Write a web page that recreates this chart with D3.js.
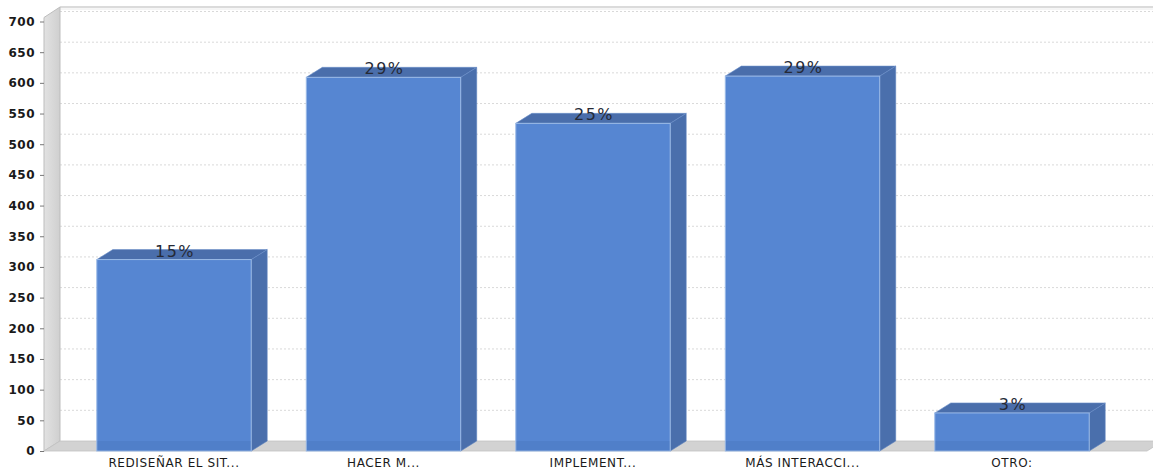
<!DOCTYPE html>
<html><head><meta charset="utf-8">
<script src="https://cdn.jsdelivr.net/npm/d3@7"></script>
<style>body{margin:0;background:#fff;}svg{display:block;}</style>
</head><body>
<svg id="c" width="1153" height="470"></svg>
<script>
const categories = ["REDISEÑAR EL SIT...", "HACER M...", "IMPLEMENT...", "MÁS INTERACCI...", "OTRO:"];
const values = [312, 609, 534, 611, 62];
const percentLabels = ["15%", "29%", "25%", "29%", "3%"];
const yTicks = [0,50,100,150,200,250,300,350,400,450,500,550,600,650,700];

const W = 1153, H = 470;
const DX = 16, DY = -10;
const svg = d3.select("#c");
const y = d3.scaleLinear().domain([0, 700]).range([451, 21.5]);
const x = d3.scaleBand().domain(categories).range([69.25, 1116.75]).padding(0);
const barW = x.bandwidth() * 0.737;

const leftX = 44, floorY = y(0);

// back wall
svg.append("rect").attr("x", leftX + DX).attr("y", 7).attr("width", W).attr("height", floorY + DY - 7).attr("fill", "#fff");
svg.append("line").attr("x1", leftX + DX).attr("x2", W).attr("y1", 7).attr("y2", 7).attr("stroke", "#cfcfcf").attr("stroke-width", 1.5);
svg.append("line").attr("x1", leftX + DX).attr("x2", W).attr("y1", 9).attr("y2", 9).attr("stroke", "#ececec").attr("stroke-width", 1);

// gridlines on back wall
svg.append("g").selectAll("line").data(yTicks.filter(d => d > 0)).join("line")
  .attr("x1", leftX + DX).attr("x2", W)
  .attr("y1", d => y(d) + DY).attr("y2", d => y(d) + DY)
  .attr("stroke", "#d9d9d9").attr("stroke-dasharray", "2,2").attr("stroke-width", 1);

// left wall
const wallGrad = svg.append("defs").append("linearGradient").attr("id", "wg").attr("x1", 0).attr("x2", 1);
wallGrad.append("stop").attr("offset", 0).attr("stop-color", "#e2e2e2");
wallGrad.append("stop").attr("offset", 1).attr("stop-color", "#cfcfcf");
svg.append("path")
  .attr("d", `M${leftX},${floorY} L${leftX},${y(700) - 4} L${leftX + DX},${7} L${leftX + DX},${floorY + DY} Z`)
  .attr("fill", "url(#wg)").attr("stroke", "#bdbdbd").attr("stroke-width", 1);

// floor
svg.append("path")
  .attr("d", `M${leftX},${floorY} L${leftX + DX},${floorY + DY} L${W + 10},${floorY + DY} L${W - 6},${floorY} Z`)
  .attr("fill", "#d2d2d2").attr("stroke", "#c2c2c2").attr("stroke-width", 0.8);

// bars
const bars = svg.append("g").selectAll("g").data(categories.map((c, i) => ({c, v: values[i], p: percentLabels[i]}))).join("g");
bars.each(function(d) {
  const g = d3.select(this);
  const cx = x(d.c) + x.bandwidth() / 2;
  const x0 = cx - barW / 2, x1 = cx + barW / 2, yt = y(d.v);
  g.append("path").attr("d", `M${x1},${yt} L${x1 + DX},${yt + DY} L${x1 + DX},${floorY + DY} L${x1},${floorY} Z`)
    .attr("fill", "#4a6fac").attr("stroke", "#5d82bd").attr("stroke-width", 0.6);
  g.append("path").attr("d", `M${x0},${yt} L${x0 + DX},${yt + DY} L${x1 + DX},${yt + DY} L${x1},${yt} Z`)
    .attr("fill", "#4a6eab").attr("stroke", "#6a8fca").attr("stroke-width", 0.6);
  g.append("rect").attr("x", x0).attr("y", yt).attr("width", barW).attr("height", floorY - yt)
    .attr("fill", "#5686d2").attr("stroke", "#9ab9e6").attr("stroke-width", 1);
  g.append("rect").attr("x", x0 + 0.5).attr("y", floorY + DY).attr("width", barW - 1).attr("height", -DY)
    .attr("fill", "#2c4f8c").attr("opacity", 0.12);
  g.append("text").attr("x", cx + 1).attr("y", yt - 3).attr("text-anchor", "middle")
    .attr("font-family", "DejaVu Sans, sans-serif").attr("font-size", 16).attr("letter-spacing", "1.5px")
    .attr("fill", "#262a36")
    .text(d.p);
});

// y axis
const yAxis = d3.axisLeft(y).tickValues(yTicks).tickSize(4).tickPadding(5);
const ga = svg.append("g").attr("transform", `translate(${leftX},0)`).call(yAxis);
ga.select(".domain").remove();
ga.selectAll("line").attr("stroke", "#777");
ga.selectAll("text").attr("font-family", "DejaVu Sans, sans-serif").attr("font-size", 12).attr("font-weight", 600)
  .attr("letter-spacing", "0.5px").attr("fill", "#1a1a1a");

// x axis labels
const xAxis = d3.axisBottom(x).tickSize(0).tickPadding(6);
const gx = svg.append("g").attr("transform", `translate(0,${floorY})`).call(xAxis);
gx.select(".domain").remove();
gx.selectAll("text").attr("font-family", "DejaVu Sans, sans-serif").attr("font-size", 12).attr("letter-spacing", "0.6px")
  .attr("fill", "#1a1a1a").attr("dy", "0.85em");
</script>
</body></html>
